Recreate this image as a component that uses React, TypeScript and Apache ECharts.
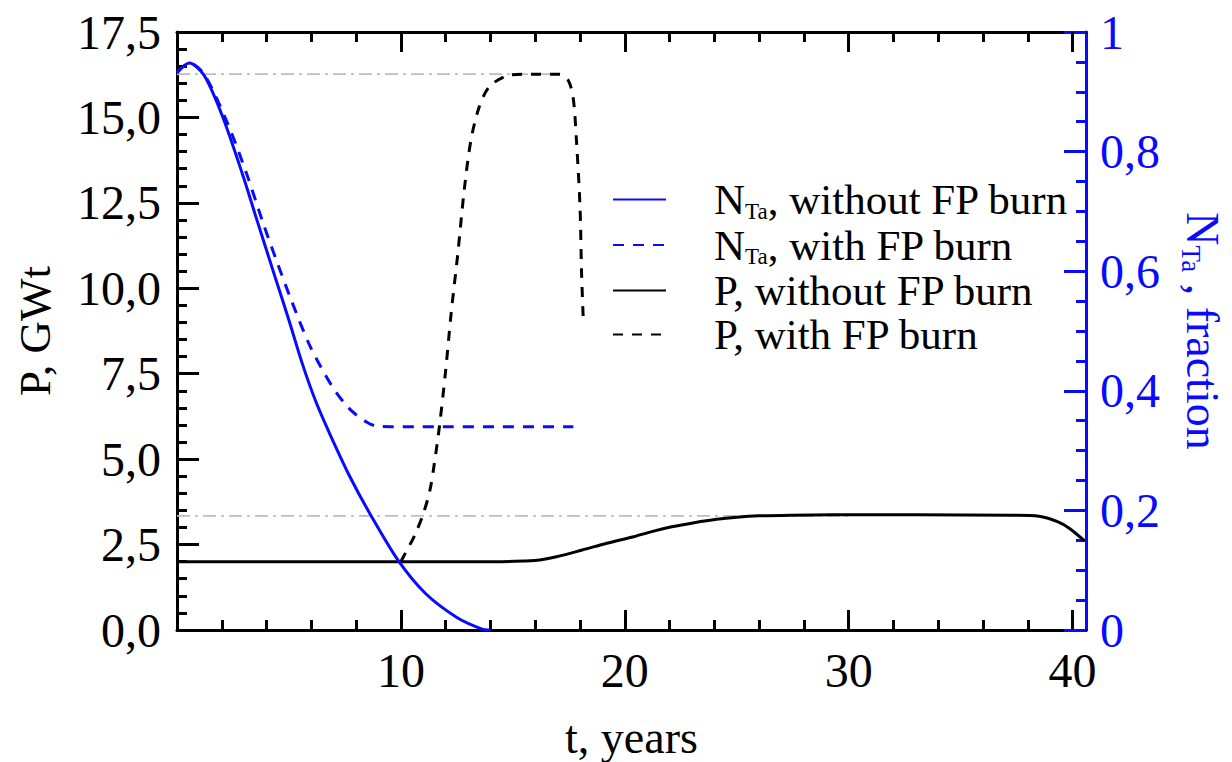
import React, { useEffect, useRef } from "react";
import * as echarts from "echarts";

// ---- data -------------------------------------------------------------
// N_Ta fraction, without fission-product burn
const tNtaNoBurn = [0, 0.55, 1.2, 2.0, 2.9, 3.6, 4.4, 5.0, 5.6, 6.2, 6.8, 7.7, 8.7, 9.9, 11.1, 12.5, 13.6, 14.0];
const ntaNoBurn = [0.932, 0.948, 0.928, 0.862, 0.765, 0.682, 0.588, 0.518, 0.445, 0.382, 0.33, 0.258, 0.189, 0.115, 0.061, 0.021, 0.002, 0];

// N_Ta fraction, with fission-product burn
const tNtaBurn = [0, 0.55, 1.2, 2.25, 3.1, 3.85, 4.5, 5.1, 5.9, 6.6, 7.1, 7.6, 8.0, 8.5, 8.9, 9.5, 17.7];
const ntaBurn = [0.932, 0.948, 0.93, 0.848, 0.764, 0.68, 0.612, 0.552, 0.478, 0.428, 0.398, 0.374, 0.36, 0.347, 0.341, 0.34, 0.34];

// Power P, GWt, without fission-product burn
const tPNoBurn = [0, 14.5, 15.5, 16.2, 17.0, 18.1, 19.2, 20.4, 21.2, 22.1, 23.1, 24.1, 25.0, 26.0, 27.5, 29.3, 33.0, 37.3, 38.5, 39.3, 39.85, 40.55];
const pNoBurn = [2.0, 2.0, 2.02, 2.05, 2.15, 2.34, 2.54, 2.73, 2.88, 3.02, 3.14, 3.24, 3.3, 3.34, 3.36, 3.37, 3.37, 3.36, 3.33, 3.18, 2.98, 2.6];

// Power P, GWt, with fission-product burn
const tPBurn = [10.0, 10.2, 10.6, 11.0, 11.3, 11.5, 11.72, 12.0, 12.25, 12.54, 12.83, 13.13, 13.5, 13.95, 14.7, 15.44, 17.08, 17.46, 17.69, 17.84, 18.0, 18.07, 18.15];
const pBurn = [2.0, 2.25, 2.75, 3.4, 4.1, 4.9, 5.95, 7.6, 9.3, 11.0, 12.88, 14.34, 15.31, 15.9, 16.21, 16.26, 16.26, 16.1, 15.6, 14.34, 12.39, 10.44, 9.02];

// reference power levels (dash-dot guides)
const guideUpperT = [0, 17];
const guideUpperP = [16.27, 16.27];
const guideLowerT = [0, 30];
const guideLowerP = [3.34, 3.34];

// axis ticks
const xMajor = [10, 20, 30, 40];
const xMinor = [2, 4, 6, 8, 12, 14, 16, 18, 22, 24, 26, 28, 32, 34, 36, 38];
const X_MAX = 40.6;

const names = [
  "NTa, without FP burn",
  "NTa, with FP burn",
  "P, without FP burn",
  "P, with FP burn",
];

const legendText: Record<string, string> = {
  "NTa, without FP burn": "{sp| }{n|N}{s|Ta}{n|, without FP burn}",
  "NTa, with FP burn": "{sp| }{n|N}{s|Ta}{n|, with FP burn}",
  "P, without FP burn": "{sp| }{n|P, without FP burn}",
  "P, with FP burn": "{sp| }{n|P, with FP burn}",
};

const zip = (xs: number[], ys: number[]) => xs.map((x, i) => [x, ys[i]]);

const FONT = "'Liberation Serif', 'Times New Roman', serif";
const BLUE = "#0a0aff";
const BLACK = "#000000";

const comma = (v: number) => v.toFixed(1).replace(".", ",");

export default function App() {
  const ref = useRef<HTMLDivElement>(null);

  useEffect(() => {
    if (!ref.current) return;
    const chart = echarts.init(ref.current, undefined, { renderer: "svg" });

    const tickLine = { color: BLACK, width: 3 };
    const blueLine = { color: BLUE, width: 3 };

    const xCommon = { type: "value", min: 0, max: X_MAX, splitLine: { show: false } };

    const lineSeries = (name: string, data: number[][], color: string, yIdx: number, dash?: number[]) => ({
      type: "line",
      name,
      yAxisIndex: yIdx,
      data,
      showSymbol: false,
      symbol: "none",
      smooth: 0.3,
      lineStyle: { color, width: 3, type: dash ?? "solid" },
      itemStyle: { color },
      z: yIdx === 1 ? 3 : 2,
    });

    chart.setOption({
      animation: false,
      backgroundColor: "#ffffff",
      grid: {
        left: 177,
        right: 146,
        top: 32,
        bottom: 132,
        containLabel: false,
        outerBoundsMode: "none",
      },
      legend: {
        data: names,
        orient: "vertical",
        left: 607,
        top: 173,
        itemWidth: 53,
        itemHeight: 14,
        itemGap: 1,
        selectedMode: false,
        itemStyle: { opacity: 0 },
        formatter: (n: string) => legendText[n],
        textStyle: {
          fontFamily: FONT,
          color: BLACK,
          rich: {
            sp: { width: 43, fontSize: 10, lineHeight: 46 },
            n: { fontFamily: FONT, fontSize: 43, lineHeight: 46, color: BLACK },
            s: { fontFamily: FONT, fontSize: 23, lineHeight: 24, verticalAlign: "bottom", color: BLACK },
          },
        },
      },
      xAxis: [
        {
          ...xCommon,
          position: "bottom",
          axisLine: { onZero: false, lineStyle: tickLine },
          axisTick: { inside: true, length: 10, lineStyle: tickLine, customValues: xMinor },
          axisLabel: {
            customValues: xMajor,
            margin: 16,
            color: BLACK,
            fontFamily: FONT,
            fontSize: 48,
            formatter: (v: number) => String(v),
          },
          name: "t, years",
          nameLocation: "middle",
          nameGap: 84,
          nameTextStyle: { fontFamily: FONT, fontSize: 46, color: BLACK },
        },
        {
          ...xCommon,
          position: "bottom",
          axisLine: { show: false, onZero: false },
          axisTick: { inside: true, length: 20, lineStyle: tickLine, customValues: xMajor },
          axisLabel: { show: false },
        },
        {
          ...xCommon,
          position: "top",
          axisLine: { onZero: false, lineStyle: tickLine },
          axisTick: { inside: true, length: 10, lineStyle: tickLine, customValues: xMinor },
          axisLabel: { show: false },
        },
        {
          ...xCommon,
          position: "top",
          axisLine: { show: false, onZero: false },
          axisTick: { inside: true, length: 20, lineStyle: tickLine, customValues: xMajor },
          axisLabel: { show: false },
        },
      ],
      yAxis: [
        {
          type: "value",
          position: "left",
          min: 0,
          max: 17.5,
          interval: 2.5,
          splitLine: { show: false },
          axisLine: { show: true, onZero: false, lineStyle: tickLine },
          axisTick: { show: true, inside: true, length: 22, lineStyle: tickLine },
          minorTick: { show: true, splitNumber: 5, length: 10, lineStyle: tickLine },
          axisLabel: {
            margin: 16,
            color: BLACK,
            fontFamily: FONT,
            fontSize: 48,
            formatter: (v: number) => comma(v),
          },
          name: "P, GWt",
          nameLocation: "middle",
          nameGap: 120,
          nameTextStyle: { fontFamily: FONT, fontSize: 45, color: BLACK },
        },
        {
          type: "value",
          position: "right",
          min: 0,
          max: 1,
          interval: 0.2,
          splitLine: { show: false },
          axisLine: { show: true, onZero: false, lineStyle: blueLine },
          axisTick: { show: true, inside: true, length: 22, lineStyle: blueLine },
          minorTick: { show: true, splitNumber: 4, length: 10, lineStyle: blueLine },
          axisLabel: {
            margin: 14,
            color: BLUE,
            fontFamily: FONT,
            fontSize: 48,
            formatter: (v: number) => (v === 0 ? "0" : v === 1 ? "1" : comma(v)),
          },
          name: "{n|N}{s|Ta}{n| , fraction}",
          nameLocation: "middle",
          nameRotate: -90,
          nameGap: 91,
          nameTextStyle: {
            color: BLUE,
            fontFamily: FONT,
            rich: {
              n: { fontFamily: FONT, fontSize: 46, lineHeight: 50, color: BLUE },
              s: { fontFamily: FONT, fontSize: 27, lineHeight: 28, verticalAlign: "bottom", color: BLUE },
            },
          },
        },
      ],
      series: [
        {
          type: "line",
          name: "guide-upper",
          data: zip(guideUpperT, guideUpperP),
          showSymbol: false,
          symbol: "none",
          silent: true,
          lineStyle: { color: "#bdbdbd", width: 1.8, type: [13, 5, 3, 5] },
          z: 1,
        },
        {
          type: "line",
          name: "guide-lower",
          data: zip(guideLowerT, guideLowerP),
          showSymbol: false,
          symbol: "none",
          silent: true,
          lineStyle: { color: "#bdbdbd", width: 1.8, type: [13, 5, 3, 5] },
          z: 1,
        },
        lineSeries(names[0], zip(tNtaNoBurn, ntaNoBurn), BLUE, 1),
        lineSeries(names[1], zip(tNtaBurn, ntaBurn), BLUE, 1, [11, 9]),
        lineSeries(names[2], zip(tPNoBurn, pNoBurn), BLACK, 0),
        lineSeries(names[3], zip(tPBurn, pBurn), BLACK, 0, [10, 9]),
      ],
    });

    return () => chart.dispose();
  }, []);

  return (
    <div
      ref={ref}
      style={{ position: "absolute", left: 0, top: 0, width: 1232, height: 762, background: "#fff" }}
    />
  );
}
